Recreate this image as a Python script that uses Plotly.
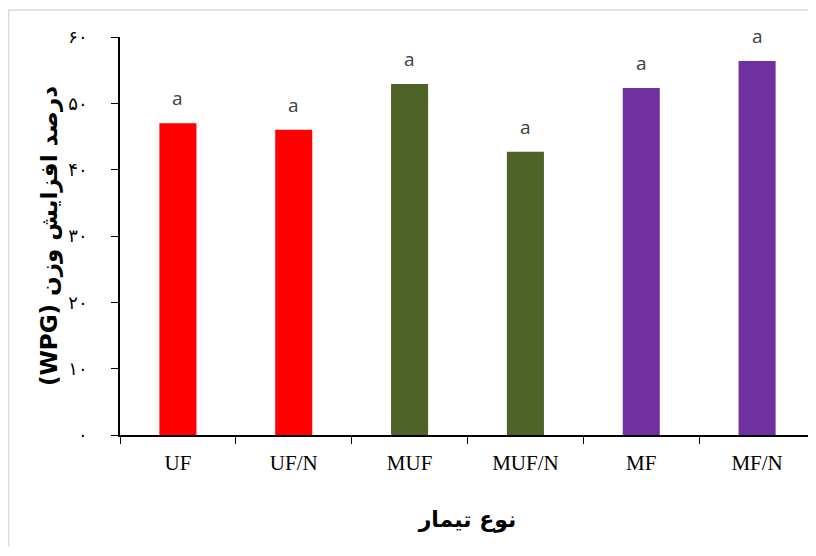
import plotly.graph_objects as go

categories = ["UF", "UF/N", "MUF", "MUF/N", "MF", "MF/N"]
values = [47.0, 46.0, 52.9, 42.7, 52.3, 56.4]
colors = ["#FF0000", "#FF0000", "#4F6228", "#4F6228", "#7030A0", "#7030A0"]
letters = ["a", "a", "a", "a", "a", "a"]
ytick_vals = [0, 10, 20, 30, 40, 50, 60]
ytick_text = ["۰", "۱۰", "۲۰", "۳۰", "۴۰", "۵۰", "۶۰"]

fig = go.Figure()
fig.add_trace(go.Bar(x=categories, y=values, marker=dict(color=colors, line=dict(width=0)),
                     width=0.32, showlegend=False))

for c, v, t in zip(categories, values, letters):
    fig.add_annotation(x=c, y=v, text=t, showarrow=False, yanchor="bottom", yshift=10,
                       font=dict(family="Open Sans", size=19, color="#404040"))

fig.update_layout(
    width=808, height=540,
    margin=dict(l=112, r=1, t=29, b=113),
    plot_bgcolor="white", paper_bgcolor="white",
)
fig.update_xaxes(
    range=[-0.5, 5.5], showline=True, linecolor="black", linewidth=1.5, automargin=False,
    ticks="outside", tickson="boundaries", ticklen=7, tickcolor="black", tickwidth=1.2,
    tickfont=dict(family="Liberation Serif", size=21, color="black"),
    ticklabelstandoff=8,
    title=dict(text="<b>نوع تیمار</b>", font=dict(family="DejaVu Sans", size=22, color="black"), standoff=38),
)
fig.update_yaxes(
    range=[0, 60], showline=True, linecolor="black", linewidth=1.5, showgrid=False, zeroline=False,
    automargin=False,
    ticks="outside", ticklen=7, tickcolor="black", tickwidth=1.2,
    tickvals=ytick_vals, ticktext=ytick_text,
    tickfont=dict(family="DejaVu Sans", size=18, color="black"),
    ticklabelstandoff=20,
    title=dict(text="<b>(WPG) درصد افزایش وزن</b>", font=dict(family="DejaVu Sans", size=23, color="black"), standoff=4),
)
# chart-area border (left and top edges visible in the reference)
fig.add_shape(type="line", xref="paper", yref="paper", x0=-0.1604, x1=-0.1604, y0=-0.28, y1=1.0678,
              line=dict(color="#D9D9D9", width=1.5), layer="below")
fig.add_shape(type="line", xref="paper", yref="paper", x0=-0.1604, x1=1.0, y0=1.0678, y1=1.0678,
              line=dict(color="#D9D9D9", width=1.5), layer="below")

fig.write_html("out.html")
